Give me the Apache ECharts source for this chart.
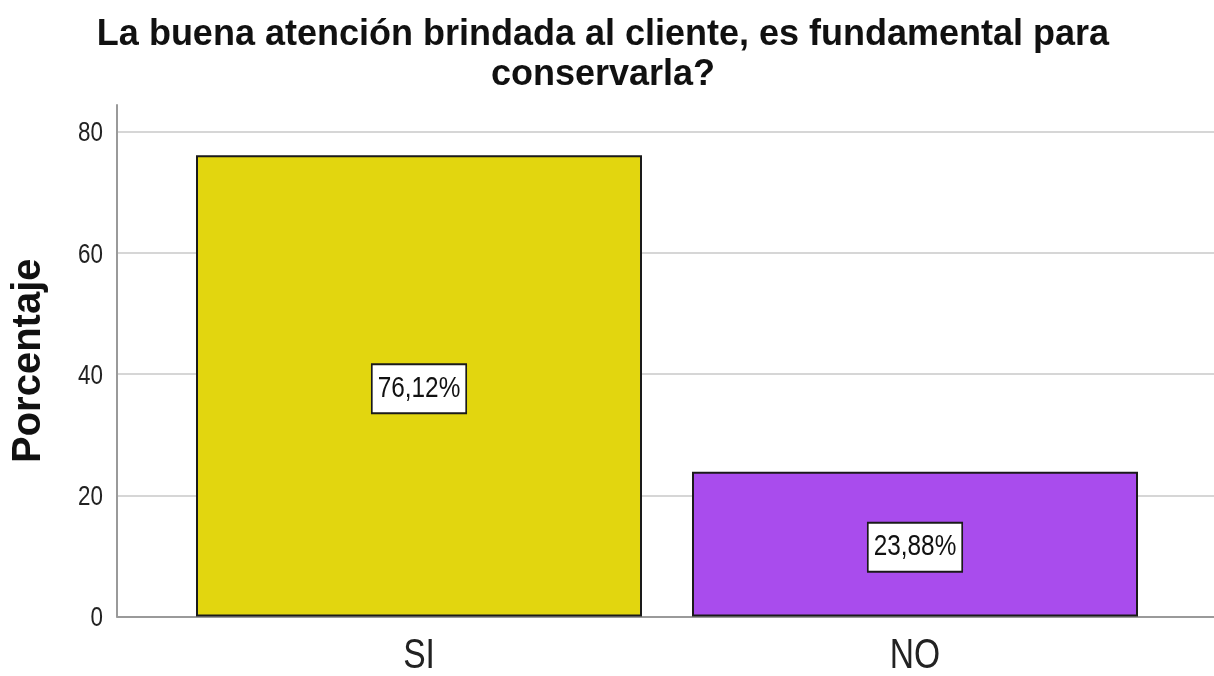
<!DOCTYPE html>
<html>
<head>
<meta charset="utf-8">
<title>La buena atención brindada al cliente</title>
<script src="https://cdn.jsdelivr.net/npm/echarts@6/dist/echarts.min.js"></script>
<style>
  html, body { margin: 0; padding: 0; background: #ffffff; }
  #chart { width: 1214px; height: 676px; }
</style>
</head>
<body>
<div id="chart"></div>
<script>
// Answer categories and their share of respondents (%)
const categories = ['SI', 'NO'];
const percentages = [76.12, 23.88];
const barColors = ['#e2d60f', '#a94ced'];

// Value axis: gridline ticks and the full extent of the axis line
const yTicks = [0, 20, 40, 60, 80];
const tickStep = 20;
const axisTop = 84.4;

const titleText = 'La buena atención brindada al cliente, es fundamental para\nconservarla?';
const yAxisTitle = 'Porcentaje';

const sansFont = "'Liberation Sans', Arial, sans-serif";
// narrow labels: regular sans squeezed horizontally
const narrowScale = 0.8;

// layout of the plotting frame
const frameLeft = 117;
const frameBottom = 59.5;
const barGridLeft = 171;
const barGridRight = 51;

const chart = echarts.init(document.getElementById('chart'), null, { renderer: 'canvas' });

const fmtPct = v => v.toFixed(2).replace('.', ',') + '%';

const option = {
  animation: false,
  backgroundColor: '#ffffff',
  title: {
    text: titleText,
    left: 598,
    textAlign: 'center',
    top: 10,
    textStyle: {
      fontFamily: sansFont,
      fontWeight: 'bold',
      fontSize: 36,
      lineHeight: 40,
      color: '#111111'
    }
  },
  grid: [
    // frame grid: gridlines 0..80 and the baseline across the full width
    { left: frameLeft, right: 0, top: 131.7, bottom: frameBottom, outerBoundsMode: 'none', containLabel: false },
    // bar grid: category bands for the two answers, value axis up to the axis top
    { left: barGridLeft, right: barGridRight, top: 105, bottom: frameBottom, outerBoundsMode: 'none', containLabel: false }
  ],
  xAxis: [
    {
      type: 'category',
      gridIndex: 0,
      data: categories,
      axisLine: { show: true, lineStyle: { color: '#9a9a9a', width: 2 } },
      axisTick: { show: false },
      axisLabel: { show: false },
      splitLine: { show: false }
    },
    {
      type: 'category',
      gridIndex: 1,
      data: categories,
      axisLine: { show: false },
      axisTick: { show: false },
      axisLabel: { show: false },
      splitLine: { show: false }
    }
  ],
  yAxis: [
    {
      type: 'value',
      gridIndex: 0,
      min: yTicks[0],
      max: yTicks[yTicks.length - 1],
      interval: tickStep,
      axisLine: { show: false },
      axisTick: { show: false },
      axisLabel: { show: false },
      splitLine: { show: true, lineStyle: { color: '#d6d6d6', width: 2 } }
    },
    {
      type: 'value',
      gridIndex: 1,
      min: yTicks[0],
      max: axisTop,
      interval: tickStep,
      // shift the axis line from the bar grid edge onto the frame edge
      offset: barGridLeft - frameLeft,
      name: yAxisTitle,
      nameLocation: 'middle',
      nameRotate: 90,
      nameGap: 68,
      nameTextStyle: {
        fontFamily: sansFont,
        fontWeight: 'bold',
        fontSize: 40,
        color: '#111111'
      },
      axisLine: { show: true, lineStyle: { color: '#9a9a9a', width: 2 } },
      axisTick: { show: false },
      axisLabel: { show: false },
      splitLine: { show: false }
    }
  ],
  series: [
    {
      type: 'bar',
      xAxisIndex: 1,
      yAxisIndex: 1,
      barWidth: 446,
      data: percentages.map((v, i) => ({
        value: v,
        itemStyle: { color: barColors[i], borderColor: '#1a1a1a', borderWidth: 2 }
      })),
      label: { show: false }
    }
  ]
};

chart.setOption(option);

// Text drawn in a condensed face, placed through the chart's own axis scales
function condensedLabels() {
  const items = [];

  // value axis tick labels
  yTicks.forEach(v => {
    const py = chart.convertToPixel({ yAxisIndex: 0 }, v);
    items.push({
      type: 'text',
      x: frameLeft - 14,
      y: py + 2,
      scaleX: narrowScale,
      silent: true,
      style: {
        text: String(v),
        align: 'right',
        verticalAlign: 'middle',
        fontFamily: sansFont,
        fontSize: 28,
        fill: '#222222'
      }
    });
  });

  const baseY = chart.convertToPixel({ yAxisIndex: 1 }, 0);

  // category labels under the baseline
  categories.forEach((c, i) => {
    const px = chart.convertToPixel({ xAxisIndex: 1 }, i);
    items.push({
      type: 'text',
      x: px,
      y: baseY + 40,
      scaleX: narrowScale,
      silent: true,
      style: {
        text: c,
        align: 'center',
        verticalAlign: 'middle',
        fontFamily: sansFont,
        fontSize: 42,
        fill: '#222222'
      }
    });
  });

  // boxed value labels at the middle of each bar
  percentages.forEach((v, i) => {
    const px = chart.convertToPixel({ xAxisIndex: 1 }, i);
    const py = chart.convertToPixel({ yAxisIndex: 1 }, v / 2);
    items.push({
      type: 'text',
      x: px,
      y: py + 3,
      scaleX: 0.84,
      silent: true,
      z: 10,
      style: {
        text: fmtPct(v),
        align: 'center',
        verticalAlign: 'middle',
        fontFamily: sansFont,
        fontSize: 29,
        lineHeight: 29,
        fill: '#111111',
        backgroundColor: '#ffffff',
        borderColor: '#1a1a1a',
        borderWidth: 2,
        padding: [9, 6, 9, 6]
      }
    });
  });

  chart.setOption({ graphic: items });
}

condensedLabels();
</script>
</body>
</html>
